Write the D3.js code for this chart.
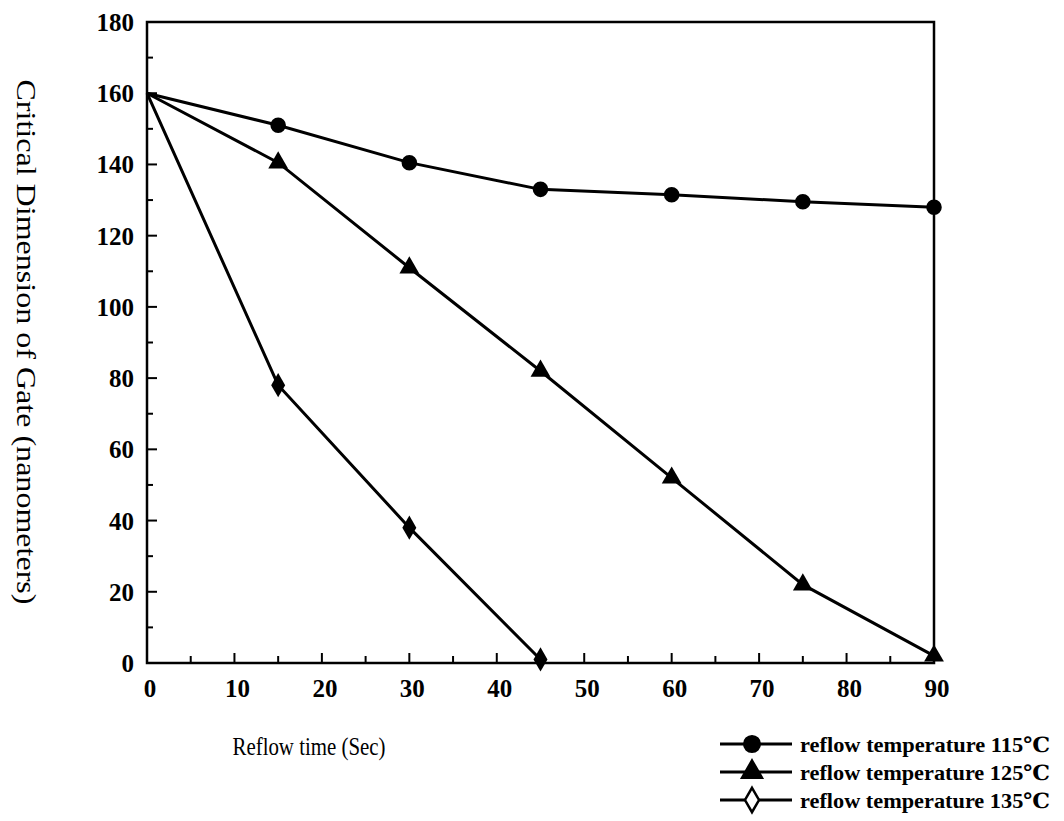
<!DOCTYPE html>
<html>
<head>
<meta charset="utf-8">
<script src="https://cdn.jsdelivr.net/npm/d3@7"></script>
<style>
body{margin:0;background:#fff;}
text{font-family:"Liberation Serif","DejaVu Serif",serif;fill:#000;}
</style>
</head>
<body>
<div id="chart"></div>
<script>
var times = [0, 15, 30, 45, 60, 75, 90];
var cd115 = [160, 151, 140.5, 133, 131.5, 129.5, 128];
var cd125 = [160, 140.5, 111, 82, 52, 22, 2];
var cd135 = [160, 78, 38, 1];
var seriesNames = ["reflow temperature 115\u2103", "reflow temperature 125\u2103", "reflow temperature 135\u2103"];
var xTicks = [0, 10, 20, 30, 40, 50, 60, 70, 80, 90];
var yTicks = [0, 20, 40, 60, 80, 100, 120, 140, 160, 180];

var W = 1064, H = 821;
var svg = d3.select("#chart").append("svg").attr("width", W).attr("height", H);

var x = d3.scaleLinear().domain([0, 90]).range([147, 934]);
var y = d3.scaleLinear().domain([0, 180]).range([663, 22]);

// frame
svg.append("rect").attr("x", 147).attr("y", 22).attr("width", 934 - 147).attr("height", 663 - 22)
  .attr("fill", "none").attr("stroke", "#000").attr("stroke-width", 2.5);

// ticks inward
var yMinor = d3.range(0, 181, 10);
svg.selectAll(".ytick").data(yMinor).enter().append("line")
  .attr("x1", 147).attr("x2", function(d){ return d % 20 === 0 ? 157 : 153; })
  .attr("y1", function(d){ return y(d); }).attr("y2", function(d){ return y(d); })
  .attr("stroke", "#000").attr("stroke-width", 2);
var xMinor = d3.range(0, 91, 5);
svg.selectAll(".xtick").data(xMinor).enter().append("line")
  .attr("x1", function(d){ return x(d); }).attr("x2", function(d){ return x(d); })
  .attr("y1", 663).attr("y2", function(d){ return d % 10 === 0 ? 653 : 656; })
  .attr("stroke", "#000").attr("stroke-width", 2);

svg.selectAll(".ylab").data(yTicks).enter().append("text")
  .attr("x", 134).attr("y", function(d){ return y(d) + 9; })
  .attr("text-anchor", "end").attr("font-size", 25).attr("font-weight", "bold")
  .text(function(d){ return d; });
svg.selectAll(".xlab").data(xTicks).enter().append("text")
  .attr("x", function(d){ return x(d) + 3; }).attr("y", 697)
  .attr("text-anchor", "middle").attr("font-size", 25).attr("font-weight", "bold")
  .text(function(d){ return d; });

svg.append("text").attr("transform", "translate(17,342) rotate(90)")
  .attr("text-anchor", "middle").attr("font-size", 28)
  .attr("textLength", 525).attr("lengthAdjust", "spacingAndGlyphs")
  .text("Critical Dimension of Gate (nanometers)");
svg.append("text").attr("x", 309).attr("y", 755).attr("text-anchor", "middle")
  .attr("font-size", 26).attr("textLength", 153).attr("lengthAdjust", "spacingAndGlyphs")
  .text("Reflow time (Sec)");

var series = [
  {name: seriesNames[0], vals: cd115, sym: d3.symbolCircle, size: 190},
  {name: seriesNames[1], vals: cd125, sym: d3.symbolTriangle, size: 170},
  {name: seriesNames[2], vals: cd135, sym: d3.symbolDiamond, size: 170}
];

var line = d3.line().x(function(d){ return x(d[0]); }).y(function(d){ return y(d[1]); });

series.forEach(function(s){
  var pts = s.vals.map(function(v, i){ return [times[i], v]; });
  svg.append("path").attr("d", line(pts)).attr("fill", "none")
    .attr("stroke", "#000").attr("stroke-width", 3);
  svg.selectAll(null).data(pts.slice(1)).enter().append("path")
    .attr("d", d3.symbol().type(s.sym).size(s.size))
    .attr("transform", function(d){ return "translate(" + x(d[0]) + "," + y(d[1]) + ")"; })
    .attr("fill", "#000");
});

// legend
var leg = svg.append("g");
series.forEach(function(s, i){
  var ly = 744 + i * 28;
  leg.append("line").attr("x1", 720).attr("x2", 792).attr("y1", ly).attr("y2", ly)
    .attr("stroke", "#000").attr("stroke-width", 3);
  leg.append("path").attr("d", d3.symbol().type(s.sym).size(s.size))
    .attr("transform", "translate(752," + ly + ")")
    .attr("fill", i === 2 ? "#fff" : "#000").attr("stroke", "#000").attr("stroke-width", 2.5);
  leg.append("text").attr("x", 800).attr("y", ly + 8).attr("font-size", 21)
    .attr("font-weight", "bold").attr("textLength", 250).attr("lengthAdjust", "spacingAndGlyphs")
    .text(s.name);
});
</script>
</body>
</html>
